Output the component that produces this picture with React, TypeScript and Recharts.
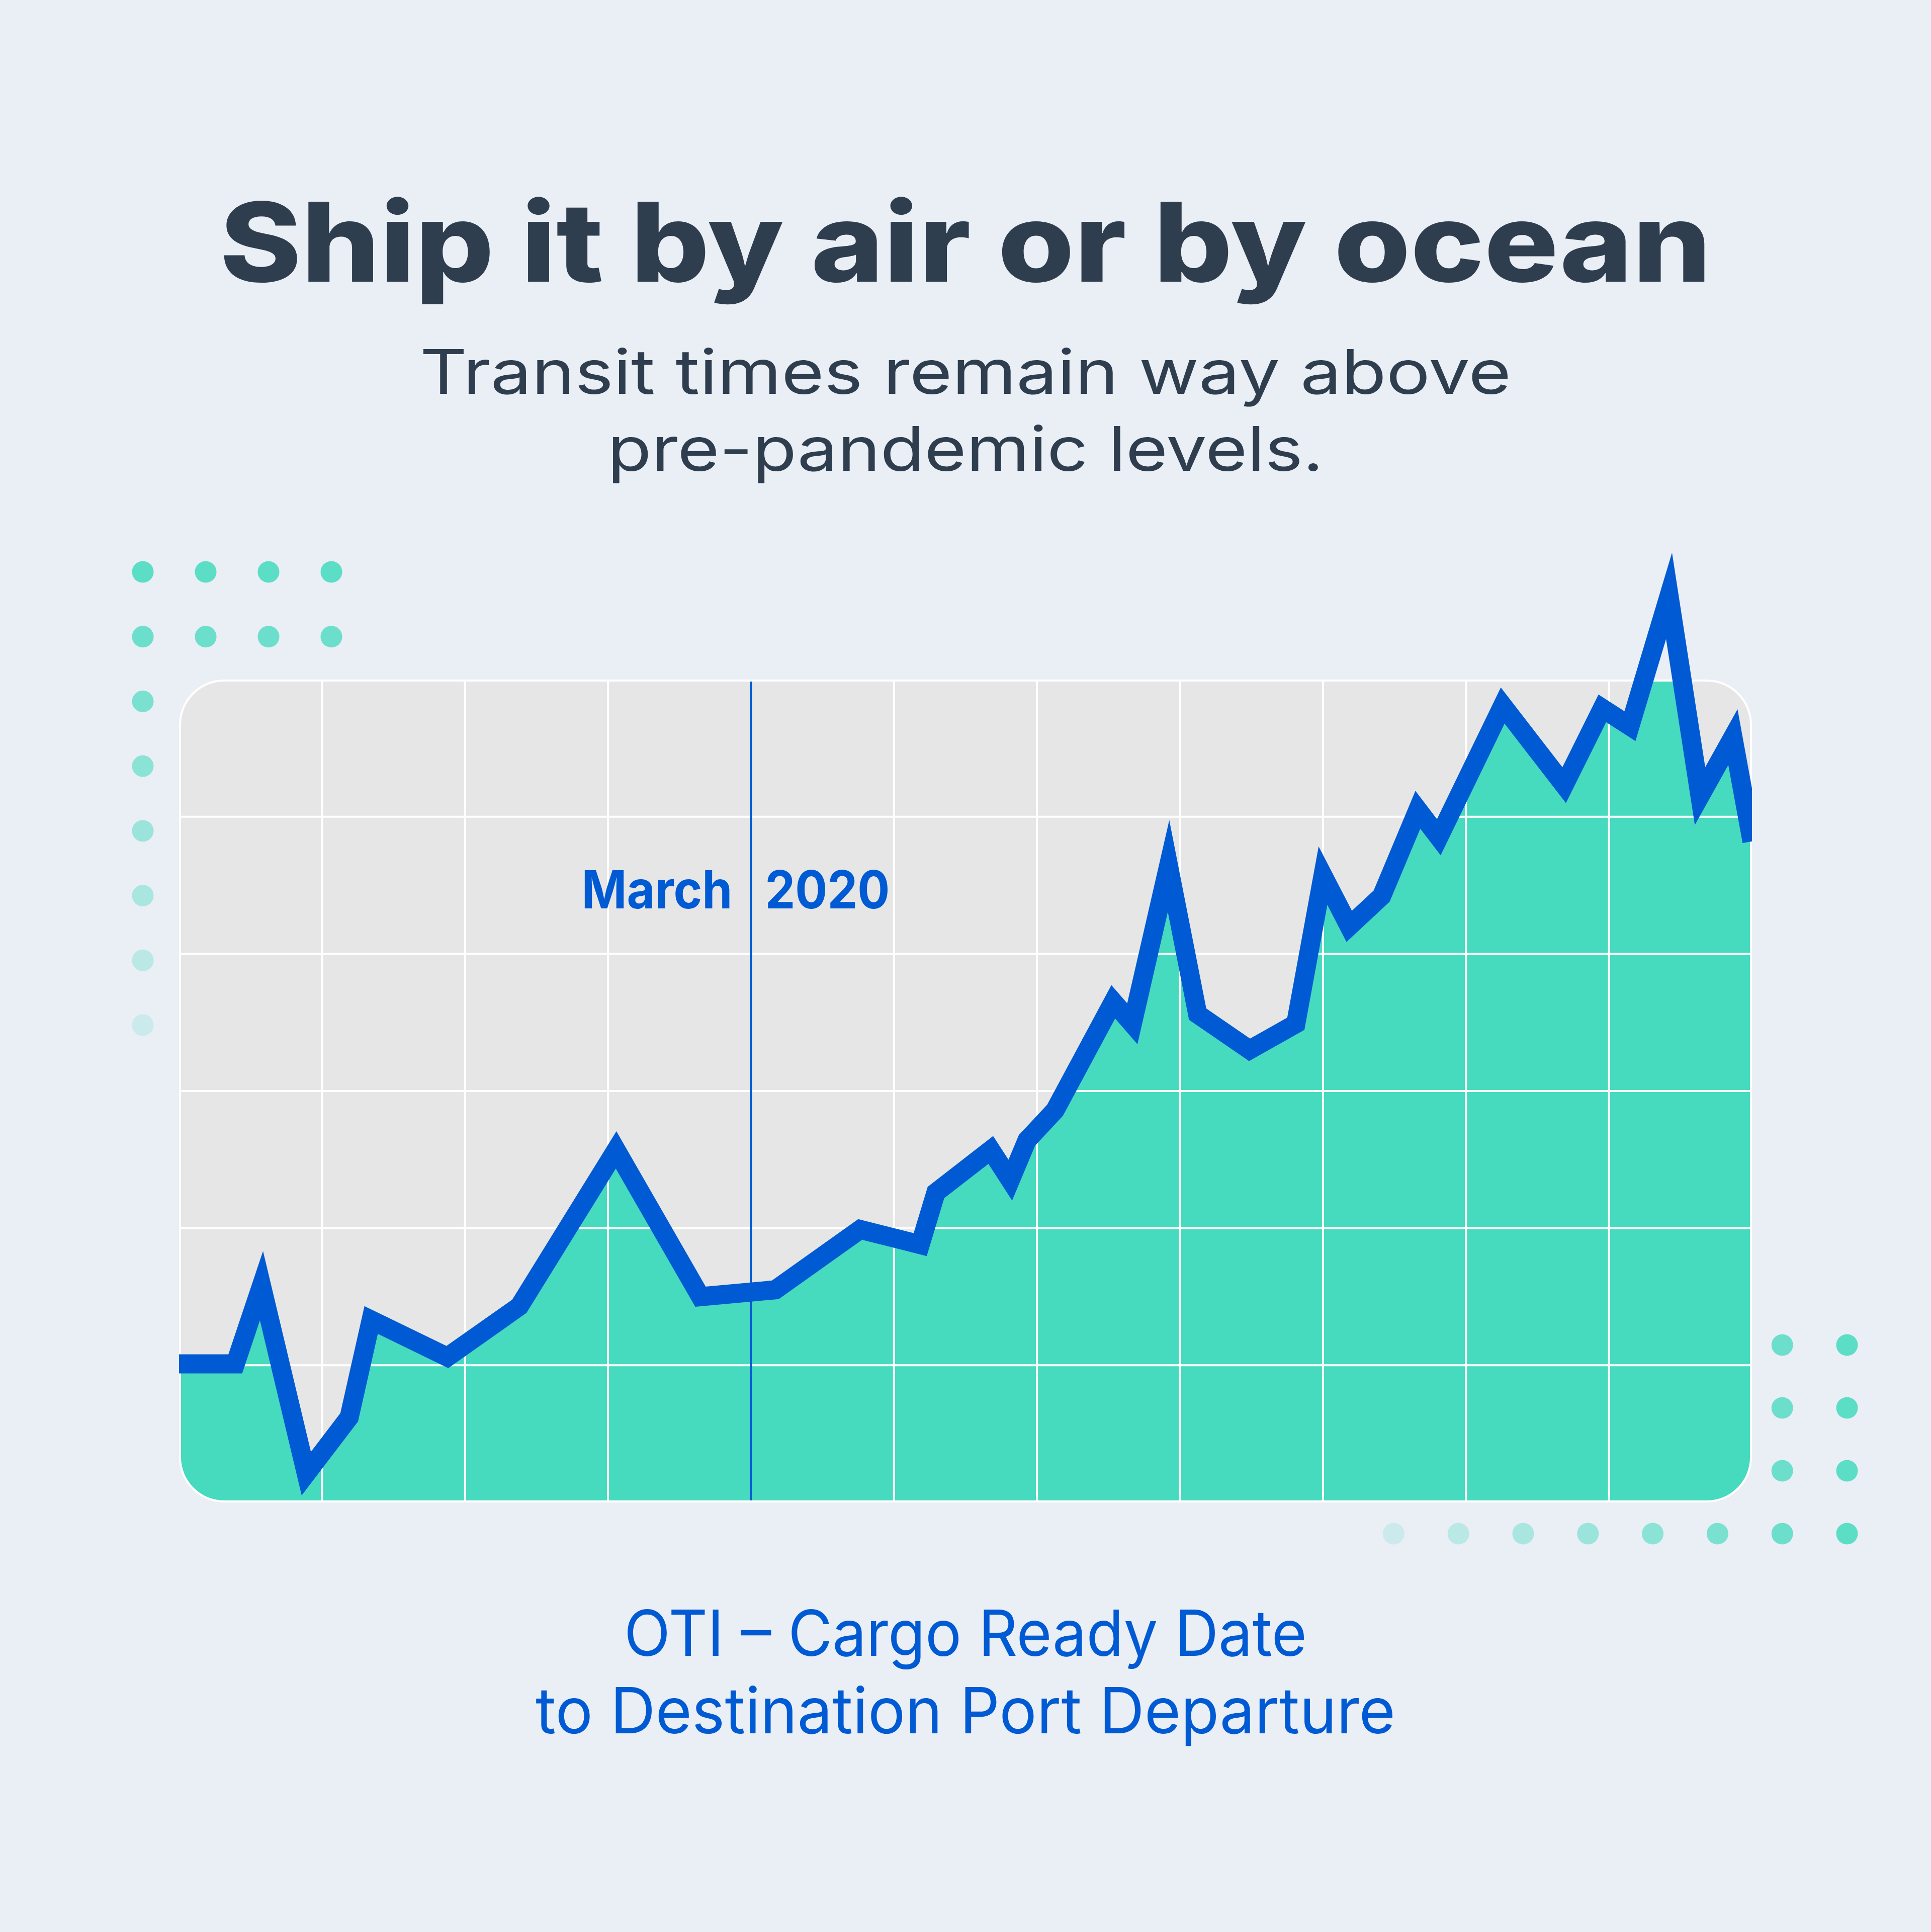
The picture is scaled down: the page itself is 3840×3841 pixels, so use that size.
import React from "react";
import {
  ComposedChart,
  Area,
  Line,
  XAxis,
  YAxis,
  CartesianGrid,
  ReferenceLine,
} from "recharts";

// months since March 2019 (one grid column = one quarter)
const MONTHS = [
  0, 1.18, 1.73, 2.67, 3.57, 4.03, 5.63, 7.14, 9.17, 10.94, 12.51, 14.29, 15.55,
  15.88, 17.03, 17.44, 17.79, 18.38, 19.6, 20.0, 20.76, 21.37, 22.46, 23.43,
  24.0, 24.55, 25.23, 25.99, 26.43, 27.77, 29.06, 29.86, 30.44, 31.26, 31.91,
  32.6, 33,
];
// transit time, days
const DAYS = [
  50.1, 50.1, 55.8, 42.1, 46.2, 53.3, 50.6, 54.3, 65.7, 55.0, 55.5, 59.9, 58.8,
  62.6, 65.7, 63.5, 66.4, 68.6, 76.5, 74.9, 86.4, 75.6, 73.0, 74.9, 85.7, 82.0,
  84.2, 90.5, 88.5, 98.1, 92.3, 97.9, 96.6, 106.1, 91.5, 95.8, 88.2,
];
const GRID_MONTHS = [3, 6, 9, 12, 15, 18, 21, 24, 27, 30];
const GRID_DAYS = [50, 60, 70, 80, 90];
const MARCH_2020 = 12;

const TITLE = "Ship it by air or by ocean";
const SUBTITLE = ["Transit times remain way above", "pre-pandemic levels."];
const FOOTER = ["OTI – Cargo Ready Date", "to Destination Port Departure"];
const MARCH_LABEL = ["March", "2020"];

const data = MONTHS.map((m, i) => ({ m, days: DAYS[i] }));

const BG = "#EAEEF5";
const PANEL = "#E6E6E6";
const TEAL = "#46DABF";
const BLUE = "#005AD3";
const INK = "#2F3E4F";
const FONT = "Inter, 'Noto Sans', sans-serif";

const W = 3840;
const H = 3841;
const PANEL_X = 356;
const PANEL_Y = 1351;
const PANEL_W = 3128;
const PANEL_H = 1636;
const BORDER = 4;
const X_MAX = 33;
const Y_MIN = 40;
const Y_MAX = 100;
const Y_EXTRA = 11; // room above the panel for the line peaks
const EXTRA_PX = (PANEL_H * Y_EXTRA) / (Y_MAX - Y_MIN);

const DOT_OPACITY = [0.87, 0.77, 0.68, 0.58, 0.48, 0.39, 0.29, 0.19];

function dotArm(ox: number, oy: number, lx: number, ly: number, sx: number, sy: number) {
  const out: { x: number; y: number; o: number }[] = [];
  DOT_OPACITY.forEach((o, i) => {
    const n = i < 2 ? 4 : 1;
    for (let j = 0; j < n; j++) {
      out.push({ x: ox + i * lx + j * sx, y: oy + i * ly + j * sy, o });
    }
  });
  return out;
}

const dots = [
  ...dotArm(284, 1137, 0, 128.7, 125, 0),
  ...dotArm(3673, 3049, -128.8, 0, 0, -125),
];

function MarchLabel(props: any) {
  const vb = props.viewBox || { x: 0, y: 0 };
  const y = vb.y + 455;
  const common = {
    y,
    fill: BLUE,
    fontFamily: FONT,
    fontWeight: 700,
    fontSize: 105,
    lengthAdjust: "spacingAndGlyphs" as const,
  };
  return (
    <g>
      <text {...common} x={vb.x - 37} textAnchor="end" textLength={300}>
        {MARCH_LABEL[0]}
      </text>
      <text {...common} x={vb.x + 28} textAnchor="start" textLength={248}>
        {MARCH_LABEL[1]}
      </text>
    </g>
  );
}

export default function App() {
  const textProps = {
    x: W / 2,
    textAnchor: "middle" as const,
    fontFamily: FONT,
    lengthAdjust: "spacingAndGlyphs" as const,
  };

  return (
    <div
      style={{
        position: "absolute",
        left: 0,
        top: 0,
        width: W,
        height: H,
        background: BG,
        overflow: "hidden",
      }}
    >
      <svg width={W} height={H} style={{ position: "absolute", left: 0, top: 0 }}>
        <text {...textProps} y={560} fontSize={218} fontWeight={800} fill={INK} textLength={2966}>
          {TITLE}
        </text>
        <text {...textProps} y={783} fontSize={122} fontWeight={400} fill={INK} textLength={2170}>
          {SUBTITLE[0]}
        </text>
        <text {...textProps} y={936} fontSize={122} fontWeight={400} fill={INK} textLength={1424}>
          {SUBTITLE[1]}
        </text>
        <text {...textProps} y={3292} fontSize={126} fontWeight={400} fill={BLUE} textLength={1358}>
          {FOOTER[0]}
        </text>
        <text {...textProps} y={3446} fontSize={126} fontWeight={400} fill={BLUE} textLength={1710}>
          {FOOTER[1]}
        </text>
        {dots.map((d, i) => (
          <circle key={i} cx={d.x} cy={d.y} r={21.5} fill={TEAL} fillOpacity={d.o} />
        ))}
      </svg>

      {/* panel with area + grid, clipped to rounded corners */}
      <div
        style={{
          position: "absolute",
          left: PANEL_X,
          top: PANEL_Y,
          width: PANEL_W,
          height: PANEL_H,
          boxSizing: "border-box",
          border: `${BORDER}px solid #FFFFFF`,
          borderRadius: 90,
          background: PANEL,
          overflow: "hidden",
        }}
      >
        <div style={{ position: "absolute", left: -BORDER, top: -BORDER }}>
          <ComposedChart
            width={PANEL_W}
            height={PANEL_H}
            data={data}
            margin={{ top: 0, right: 0, bottom: 0, left: 0 }}
          >
            <XAxis type="number" dataKey="m" domain={[0, X_MAX]} ticks={GRID_MONTHS} hide allowDataOverflow />
            <YAxis type="number" domain={[Y_MIN, Y_MAX]} ticks={GRID_DAYS} hide allowDataOverflow />
            <Area
              type="linear"
              dataKey="days"
              stroke="none"
              fill={TEAL}
              fillOpacity={1}
              baseValue={Y_MIN}
              isAnimationActive={false}
            />
            <CartesianGrid stroke="#FFFFFF" strokeWidth={4} zIndex={600} />
            <ReferenceLine
              x={MARCH_2020}
              stroke={BLUE}
              strokeWidth={4}
              label={<MarchLabel />}
              zIndex={650}
            />
          </ComposedChart>
        </div>
      </div>

      {/* thick line drawn above the panel */}
      <div style={{ position: "absolute", left: PANEL_X, top: PANEL_Y - EXTRA_PX }}>
        <ComposedChart
          width={PANEL_W}
          height={PANEL_H + EXTRA_PX}
          data={data}
          margin={{ top: 0, right: 0, bottom: 0, left: 0 }}
        >
          <XAxis type="number" dataKey="m" domain={[0, X_MAX]} hide allowDataOverflow />
          <YAxis type="number" domain={[Y_MIN, Y_MAX + Y_EXTRA]} hide allowDataOverflow />
          <Line
            type="linear"
            dataKey="days"
            stroke={BLUE}
            strokeWidth={38}
            strokeLinejoin="miter"
            strokeMiterlimit={12}
            dot={false}
            activeDot={false}
            isAnimationActive={false}
          />
        </ComposedChart>
      </div>
    </div>
  );
}
